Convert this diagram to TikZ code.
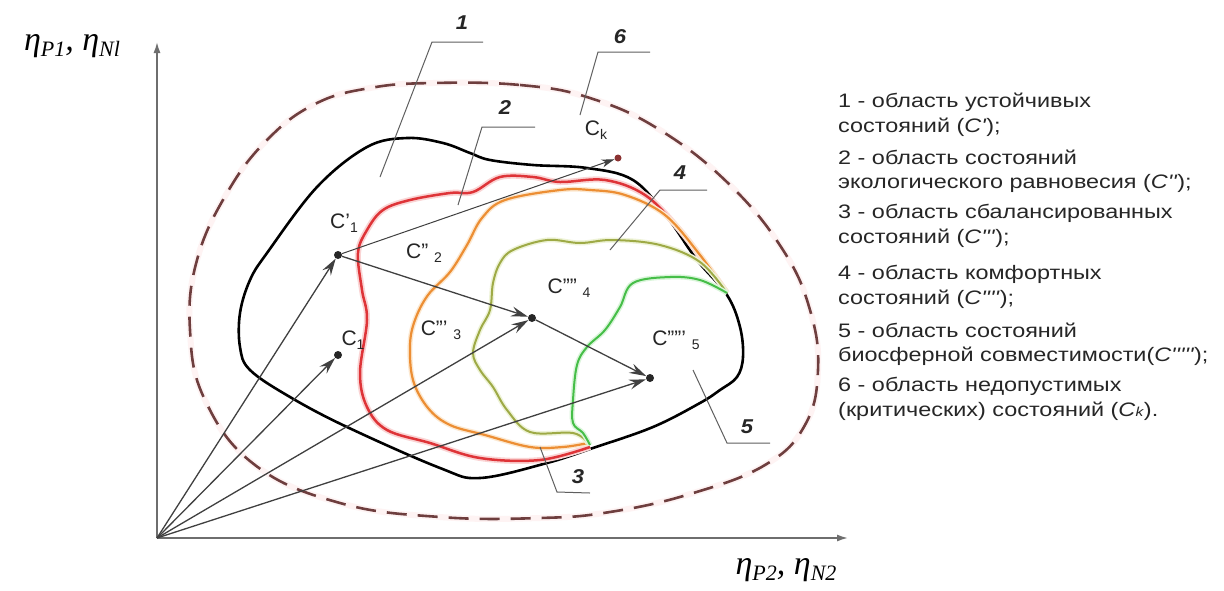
\documentclass[tikz,border=0pt]{standalone}
\usepackage{fontspec}
\setmainfont{Liberation Sans}
\newfontfamily\legfont[FakeStretch=1.2]{Liberation Sans}
\newfontfamily\numfont[FakeStretch=1.1]{Liberation Sans}
\newfontfamily\etafont{Liberation Serif}
\usetikzlibrary{arrows.meta}
\newcommand\lsub[1]{\raisebox{-0.35ex}{\fontsize{14}{14}\selectfont #1}}
\newcommand\esub[1]{\raisebox{-0.4ex}{\fontsize{22}{22}\selectfont #1}}
\definecolor{dashc}{RGB}{110,62,62}
\definecolor{dashglow}{RGB}{254,243,243}
\definecolor{redc}{RGB}{222,52,56}
\definecolor{redglow}{RGB}{250,212,212}
\definecolor{orc}{RGB}{236,142,52}
\definecolor{orglow}{RGB}{252,232,208}
\definecolor{olc}{RGB}{158,170,70}
\definecolor{olglow}{RGB}{238,243,215}
\definecolor{grc}{RGB}{70,190,72}
\definecolor{grglow}{RGB}{218,245,218}
\definecolor{leadc}{RGB}{95,95,95}
\definecolor{axisc}{RGB}{110,110,110}
\begin{document}
\begin{tikzpicture}[x=1pt,y=-1pt,
  lead/.style={draw=leadc, line width=1pt},
  num/.style={font=\numfont\fontsize{20}{22}\selectfont\bfseries\itshape, inner sep=0, text=black!85},
  ptlab/.style={font=\fontsize{21}{23}\selectfont, inner sep=0, text=black!85},
  dot/.style={circle, fill=black!85, inner sep=0, minimum size=8pt},
  vec/.style={draw=black!75, line width=1.3pt, -{Stealth[length=17pt,width=10pt,inset=6pt]}},
  leg/.style={font=\legfont\fontsize{19.5}{22}\selectfont, anchor=base west, inner sep=0, text=black!85},
  axis/.style={draw=axisc, line width=1.6pt, -{Latex[length=11pt,width=7pt]}},
]
\useasboundingbox (0,0) rectangle (1224,590);
\fill[white] (0,0) rectangle (1224,590);

% region 6 (dashed)
\draw[dashglow, line width=6pt] plot[smooth cycle, tension=0.7] coordinates {(433,83) (520,85) (590,98) (660,130) (730,185) (783,250) (810,310) (818,370) (805,425) (765,465) (690,494) (610,512) (540,518) (440,517) (340,503) (255,465) (205,400) (190,330) (197,260) (227,193) (267,140) (315,104) (370,88)};
\draw[dashc, line width=2.6pt, dash pattern=on 20pt off 11pt] plot[smooth cycle, tension=0.7] coordinates {(433,83) (520,85) (590,98) (660,130) (730,185) (783,250) (810,310) (818,370) (805,425) (765,465) (690,494) (610,512) (540,518) (440,517) (340,503) (255,465) (205,400) (190,330) (197,260) (227,193) (267,140) (315,104) (370,88)};

% region 1 (black)
\draw[black, line width=2.6pt] plot[smooth cycle, tension=0.6] coordinates {(407,138) (443,143) (470,153) (490,160) (533,165) (587,168) (633,180) (667,217) (697,260) (727,295) (740,327) (743,357) (737,377) (720,390) (700,403) (653,427) (593,448) (547,463) (480,478) (440,468) (347,427) (290,397) (250,370) (240,347) (240,313) (250,280) (267,253) (317,187) (367,147)};

% region 2 (red)
\draw[redglow, line width=6pt] plot[smooth, tension=0.6] coordinates {(727,293) (706,264) (678,228) (645,195) (605,180) (560,182) (533,177) (500,177) (473,192) (450,193) (410,200) (383,210) (367,230) (358,253) (362,290) (367,320) (360,373) (367,407) (387,430) (430,443) (480,458) (540,460) (590,447)};
\draw[redc, line width=2.5pt] plot[smooth, tension=0.6] coordinates {(727,293) (706,264) (678,228) (645,195) (605,180) (560,182) (533,177) (500,177) (473,192) (450,193) (410,200) (383,210) (367,230) (358,253) (362,290) (367,320) (360,373) (367,407) (387,430) (430,443) (480,458) (540,460) (590,447)};

% region 3 (orange)
\draw[orglow, line width=5pt] plot[smooth, tension=0.6] coordinates {(727,293) (700,255) (665,215) (625,195) (590,190) (560,190) (505,200) (482,218) (467,245) (450,272) (428,295) (415,320) (410,345) (413,380) (428,408) (450,425) (485,435) (530,447) (563,447) (588,443)};
\draw[orc, line width=2.2pt] plot[smooth, tension=0.6] coordinates {(727,293) (700,255) (665,215) (625,195) (590,190) (560,190) (505,200) (482,218) (467,245) (450,272) (428,295) (415,320) (410,345) (413,380) (428,408) (450,425) (485,435) (530,447) (563,447) (588,443)};

% region 4 (olive)
\draw[olglow, line width=5pt] plot[smooth, tension=0.6] coordinates {(727,293) (700,262) (660,245) (613,240) (580,243) (547,240) (513,250) (500,263) (493,283) (490,310) (480,330) (473,353) (480,370) (493,387) (507,410) (530,432) (573,433) (588,443)};
\draw[olc, line width=2pt] plot[smooth, tension=0.6] coordinates {(727,293) (700,262) (660,245) (613,240) (580,243) (547,240) (513,250) (500,263) (493,283) (490,310) (480,330) (473,353) (480,370) (493,387) (507,410) (530,432) (573,433) (588,443)};

% region 5 (green)
\draw[grglow, line width=5pt] plot[smooth, tension=0.6] coordinates {(727,293) (700,280) (670,277) (633,283) (620,307) (605,330) (587,347) (577,365) (573,400) (573,423) (583,433) (590,445)};
\draw[grc, line width=2pt] plot[smooth, tension=0.6] coordinates {(727,293) (700,280) (670,277) (633,283) (620,307) (605,330) (587,347) (577,365) (573,400) (573,423) (583,433) (590,445)};

% axes
\coordinate (O) at (157,538);
\coordinate (yend) at (157,42);
\coordinate (xend) at (848,538);
\draw[axis] (O) -- (yend);
\draw[axis] (O) -- (xend);
\node[inner sep=0] (ylab) at (72,46) {\etafont\itshape\fontsize{34}{36}\selectfont η\esub{P1}, η\esub{Nl}};
\node[inner sep=0] (xlab) at (786,570) {\etafont\itshape\fontsize{34}{36}\selectfont η\esub{P2}, η\esub{N2}};

% points
\node[dot] (c1p) at (338,255) {};
\node[dot] (c1) at (338,355) {};
\node[dot] (c4) at (532,318) {};
\node[dot] (c5) at (650,378) {};
\node[dot, minimum size=7pt, fill=dashc!80!red] (ck) at (618,158) {};

\node[ptlab] (lc1p) at (344,223) {C'\lsub{1}};
\node[ptlab] (lc1) at (353,340) {C\lsub{1}};
\node[ptlab] (lc2) at (424,253) {C'' \lsub{2}};
\node[ptlab] (lc3) at (441,330) {C''' \lsub{3}};
\node[ptlab] (lc4) at (569,288) {C'''' \lsub{4}};
\node[ptlab] (lc5) at (676,340) {C''''' \lsub{5}};
\node[ptlab] (lck) at (596,130) {C\lsub{k}};

% vectors
\draw[vec] (O) -- (c1p);
\draw[vec] (O) -- (c1);
\draw[vec] (O) -- (c4);
\draw[vec] (O) -- (c5);
\draw[vec] (c1p) -- (c4);
\draw[vec] (c4) -- (c5);
\draw[vec, line width=1pt, -{Stealth[length=13pt,width=8pt,inset=4pt]}] (c1p) -- (ck);

% leaders
\coordinate (a1) at (380,177); \coordinate (b1) at (432,42); \coordinate (e1) at (483,42);
\coordinate (a2) at (458,205); \coordinate (b2) at (482,127); \coordinate (e2) at (535,127);
\coordinate (a6) at (580,115); \coordinate (b6) at (598,52); \coordinate (e6) at (650,52);
\coordinate (a4) at (610,250); \coordinate (b4) at (660,190); \coordinate (e4) at (707,190);
\coordinate (a5) at (693,370); \coordinate (b5) at (727,443); \coordinate (e5) at (770,443);
\coordinate (a3) at (540,447); \coordinate (b3) at (557,492); \coordinate (e3) at (590,493);
\draw[lead] (a1) -- (b1) -- (e1);
\draw[lead] (a2) -- (b2) -- (e2);
\draw[lead] (a6) -- (b6) -- (e6);
\draw[lead] (a4) -- (b4) -- (e4);
\draw[lead] (a5) -- (b5) -- (e5);
\draw[lead] (a3) -- (b3) -- (e3);
\node[num] (n1) at (462,23) {1};
\node[num] (n2) at (505,108) {2};
\node[num] (n6) at (620,37) {6};
\node[num] (n4) at (680,173) {4};
\node[num] (n5) at (747,427) {5};
\node[num] (n3) at (578,477) {3};

% legend
\node[leg] (g1a) at (838,107) {1 - область устойчивых};
\node[leg] (g1b) at (838,132) {состояний (\textit{C'});};
\node[leg] (g2a) at (838,164) {2 - область состояний};
\node[leg] (g2b) at (838,188) {экологического равновесия (\textit{C''});};
\node[leg] (g3a) at (838,218) {3 - область сбалансированных};
\node[leg] (g3b) at (838,243) {состояний (\textit{C'''});};
\node[leg] (g4a) at (838,279) {4 - область комфортных};
\node[leg] (g4b) at (838,304) {состояний (\textit{C''''});};
\node[leg] (g5a) at (838,337) {5 - область состояний};
\node[leg] (g5b) at (838,361) {биосферной совместимости(\textit{C'''''});};
\node[leg] (g6a) at (838,391) {6 - область недопустимых};
\node[leg] (g6b) at (838,416) {(критических) состояний (\textit{C}{\fontsize{13}{13}\selectfont\textit{k}}).};
\end{tikzpicture}
\end{document}
